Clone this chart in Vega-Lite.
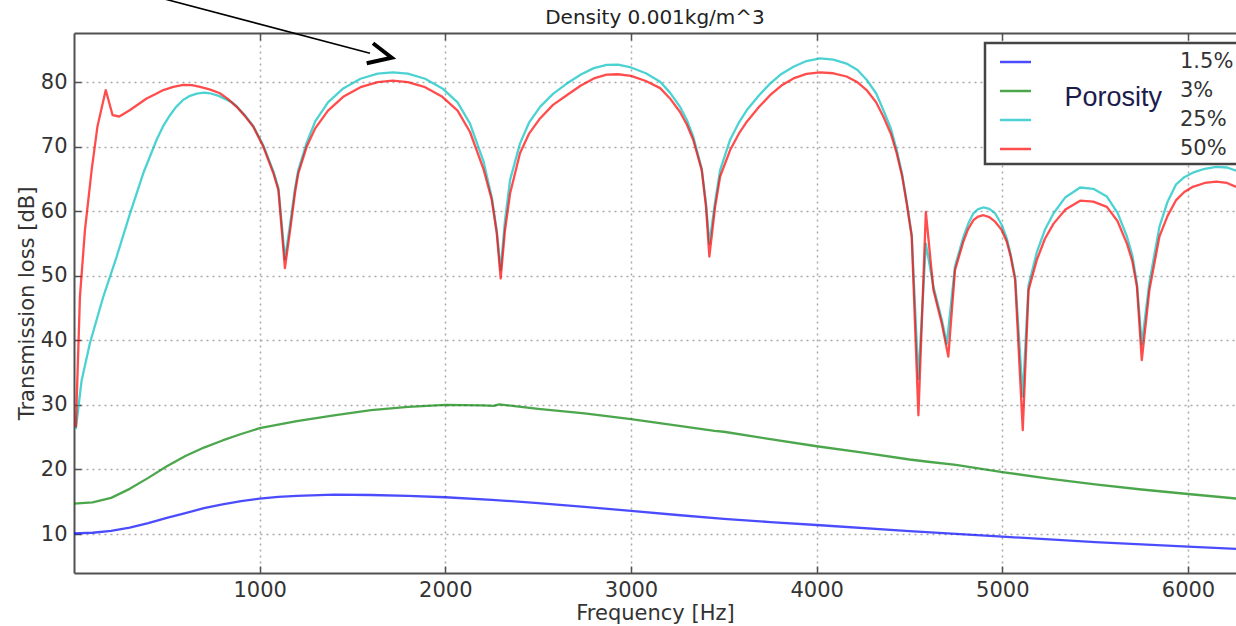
{
  "$schema": "https://vega.github.io/schema/vega-lite/v6.json",
  "width": 1162,
  "height": 540,
  "autosize": {"type": "none"},
  "padding": {"left": 74, "top": 33, "right": 0, "bottom": 53},
  "background": "white",
  "config": {
    "font": "DejaVu Sans",
    "view": {"stroke": null},
    "axis": {
      "domainColor": "#505050", "domainWidth": 2,
      "tickColor": "#505050", "tickWidth": 1.5, "tickSize": -7,
      "labelFontSize": 21, "labelColor": "#333", "labelFont": "DejaVu Sans",
      "titleFontSize": 21, "titleColor": "#333", "titleFont": "DejaVu Sans", "titleFontWeight": "normal",
      "gridColor": "#a8a8a8", "gridDash": [2, 4], "gridWidth": 1.5
    }
  },
  "title": {"text": "Density 0.001kg/m^3", "fontSize": 20, "fontWeight": "normal", "font": "DejaVu Sans", "color": "#222", "offset": -27, "dy": 21, "baseline": "alphabetic", "anchor": "middle"},
  "resolve": {"axis": {"x": "independent", "y": "independent"}},
  "layer": [
    {
      "data": {"values": [
        {"f":0,"tl":10.1,"p":"1.5%"},{"f":100,"tl":10.2,"p":"1.5%"},{"f":200,"tl":10.5,"p":"1.5%"},{"f":300,"tl":11.0,"p":"1.5%"},{"f":400,"tl":11.7,"p":"1.5%"},{"f":500,"tl":12.5,"p":"1.5%"},{"f":600,"tl":13.25,"p":"1.5%"},{"f":700,"tl":14.0,"p":"1.5%"},{"f":800,"tl":14.6,"p":"1.5%"},{"f":900,"tl":15.1,"p":"1.5%"},{"f":1000,"tl":15.5,"p":"1.5%"},{"f":1100,"tl":15.75,"p":"1.5%"},{"f":1200,"tl":15.9,"p":"1.5%"},{"f":1400,"tl":16.1,"p":"1.5%"},{"f":1600,"tl":16.05,"p":"1.5%"},{"f":1800,"tl":15.9,"p":"1.5%"},{"f":2000,"tl":15.7,"p":"1.5%"},{"f":2250,"tl":15.3,"p":"1.5%"},{"f":2500,"tl":14.8,"p":"1.5%"},{"f":2750,"tl":14.2,"p":"1.5%"},{"f":3000,"tl":13.6,"p":"1.5%"},{"f":3250,"tl":12.95,"p":"1.5%"},{"f":3500,"tl":12.35,"p":"1.5%"},{"f":3750,"tl":11.85,"p":"1.5%"},{"f":4000,"tl":11.4,"p":"1.5%"},{"f":4500,"tl":10.45,"p":"1.5%"},{"f":5000,"tl":9.6,"p":"1.5%"},{"f":5500,"tl":8.75,"p":"1.5%"},{"f":6000,"tl":8.05,"p":"1.5%"},{"f":6259,"tl":7.7,"p":"1.5%"},
        {"f":0,"tl":14.7,"p":"3%"},{"f":100,"tl":14.9,"p":"3%"},{"f":200,"tl":15.6,"p":"3%"},{"f":300,"tl":17.0,"p":"3%"},{"f":400,"tl":18.7,"p":"3%"},{"f":500,"tl":20.5,"p":"3%"},{"f":600,"tl":22.1,"p":"3%"},{"f":700,"tl":23.4,"p":"3%"},{"f":800,"tl":24.5,"p":"3%"},{"f":900,"tl":25.5,"p":"3%"},{"f":1000,"tl":26.4,"p":"3%"},{"f":1200,"tl":27.5,"p":"3%"},{"f":1400,"tl":28.4,"p":"3%"},{"f":1600,"tl":29.2,"p":"3%"},{"f":1800,"tl":29.7,"p":"3%"},{"f":2000,"tl":30.0,"p":"3%"},{"f":2200,"tl":29.95,"p":"3%"},{"f":2260,"tl":29.85,"p":"3%"},{"f":2290,"tl":30.1,"p":"3%"},{"f":2350,"tl":29.9,"p":"3%"},{"f":2500,"tl":29.4,"p":"3%"},{"f":2750,"tl":28.7,"p":"3%"},{"f":3000,"tl":27.8,"p":"3%"},{"f":3250,"tl":26.8,"p":"3%"},{"f":3450,"tl":26.0,"p":"3%"},{"f":3500,"tl":25.85,"p":"3%"},{"f":3750,"tl":24.7,"p":"3%"},{"f":4000,"tl":23.6,"p":"3%"},{"f":4250,"tl":22.6,"p":"3%"},{"f":4500,"tl":21.55,"p":"3%"},{"f":4600,"tl":21.2,"p":"3%"},{"f":4750,"tl":20.7,"p":"3%"},{"f":5000,"tl":19.6,"p":"3%"},{"f":5250,"tl":18.6,"p":"3%"},{"f":5500,"tl":17.7,"p":"3%"},{"f":5750,"tl":16.9,"p":"3%"},{"f":6000,"tl":16.2,"p":"3%"},{"f":6259,"tl":15.5,"p":"3%"},
        {"f":10,"tl":26.3,"p":"25%"},{"f":41,"tl":33.8,"p":"25%"},{"f":86,"tl":39.6,"p":"25%"},{"f":158,"tl":46.8,"p":"25%"},{"f":230,"tl":53.0,"p":"25%"},{"f":302,"tl":59.7,"p":"25%"},{"f":373,"tl":65.9,"p":"25%"},{"f":445,"tl":71.1,"p":"25%"},{"f":480,"tl":73.2,"p":"25%"},{"f":517,"tl":74.9,"p":"25%"},{"f":550,"tl":76.2,"p":"25%"},{"f":589,"tl":77.3,"p":"25%"},{"f":625,"tl":77.9,"p":"25%"},{"f":661,"tl":78.25,"p":"25%"},{"f":700,"tl":78.4,"p":"25%"},{"f":733,"tl":78.3,"p":"25%"},{"f":780,"tl":77.9,"p":"25%"},{"f":822,"tl":77.3,"p":"25%"},{"f":850,"tl":76.9,"p":"25%"},{"f":876,"tl":76.3,"p":"25%"},{"f":920,"tl":74.9,"p":"25%"},{"f":966,"tl":73.2,"p":"25%"},{"f":1020,"tl":70.2,"p":"25%"},{"f":1074,"tl":66.2,"p":"25%"},{"f":1101,"tl":63.6,"p":"25%"},{"f":1119,"tl":58.0,"p":"25%"},{"f":1136,"tl":52.6,"p":"25%"},{"f":1164,"tl":58.0,"p":"25%"},{"f":1190,"tl":63.5,"p":"25%"},{"f":1208,"tl":66.4,"p":"25%"},{"f":1253,"tl":70.6,"p":"25%"},{"f":1300,"tl":74.0,"p":"25%"},{"f":1368,"tl":76.9,"p":"25%"},{"f":1450,"tl":79.05,"p":"25%"},{"f":1543,"tl":80.55,"p":"25%"},{"f":1636,"tl":81.34,"p":"25%"},{"f":1717,"tl":81.55,"p":"25%"},{"f":1798,"tl":81.34,"p":"25%"},{"f":1891,"tl":80.55,"p":"25%"},{"f":1984,"tl":79.05,"p":"25%"},{"f":2066,"tl":76.9,"p":"25%"},{"f":2133,"tl":73.6,"p":"25%"},{"f":2205,"tl":67.8,"p":"25%"},{"f":2250,"tl":62.2,"p":"25%"},{"f":2277,"tl":57.0,"p":"25%"},{"f":2298,"tl":50.9,"p":"25%"},{"f":2321,"tl":58.5,"p":"25%"},{"f":2349,"tl":64.9,"p":"25%"},{"f":2402,"tl":70.5,"p":"25%"},{"f":2450,"tl":73.7,"p":"25%"},{"f":2510,"tl":76.2,"p":"25%"},{"f":2580,"tl":78.2,"p":"25%"},{"f":2654,"tl":79.8,"p":"25%"},{"f":2730,"tl":81.2,"p":"25%"},{"f":2800,"tl":82.2,"p":"25%"},{"f":2869,"tl":82.7,"p":"25%"},{"f":2930,"tl":82.75,"p":"25%"},{"f":3000,"tl":82.3,"p":"25%"},{"f":3080,"tl":81.4,"p":"25%"},{"f":3157,"tl":80.1,"p":"25%"},{"f":3210,"tl":78.4,"p":"25%"},{"f":3264,"tl":76.2,"p":"25%"},{"f":3300,"tl":74.2,"p":"25%"},{"f":3335,"tl":71.6,"p":"25%"},{"f":3381,"tl":66.6,"p":"25%"},{"f":3404,"tl":61.2,"p":"25%"},{"f":3422,"tl":55.0,"p":"25%"},{"f":3453,"tl":61.5,"p":"25%"},{"f":3480,"tl":66.4,"p":"25%"},{"f":3534,"tl":71.1,"p":"25%"},{"f":3580,"tl":73.7,"p":"25%"},{"f":3624,"tl":75.7,"p":"25%"},{"f":3690,"tl":78.0,"p":"25%"},{"f":3749,"tl":79.8,"p":"25%"},{"f":3810,"tl":81.3,"p":"25%"},{"f":3875,"tl":82.4,"p":"25%"},{"f":3945,"tl":83.3,"p":"25%"},{"f":4018,"tl":83.7,"p":"25%"},{"f":4090,"tl":83.5,"p":"25%"},{"f":4161,"tl":82.9,"p":"25%"},{"f":4220,"tl":81.9,"p":"25%"},{"f":4269,"tl":80.4,"p":"25%"},{"f":4320,"tl":78.3,"p":"25%"},{"f":4359,"tl":75.7,"p":"25%"},{"f":4400,"tl":72.8,"p":"25%"},{"f":4431,"tl":69.5,"p":"25%"},{"f":4460,"tl":65.8,"p":"25%"},{"f":4485,"tl":61.5,"p":"25%"},{"f":4512,"tl":56.3,"p":"25%"},{"f":4548,"tl":34.0,"p":"25%"},{"f":4588,"tl":55.0,"p":"25%"},{"f":4629,"tl":48.3,"p":"25%"},{"f":4674,"tl":43.2,"p":"25%"},{"f":4701,"tl":39.5,"p":"25%"},{"f":4745,"tl":51.5,"p":"25%"},{"f":4790,"tl":56.0,"p":"25%"},{"f":4815,"tl":58.0,"p":"25%"},{"f":4844,"tl":59.7,"p":"25%"},{"f":4870,"tl":60.35,"p":"25%"},{"f":4898,"tl":60.6,"p":"25%"},{"f":4930,"tl":60.4,"p":"25%"},{"f":4961,"tl":59.7,"p":"25%"},{"f":4995,"tl":58.0,"p":"25%"},{"f":5024,"tl":55.8,"p":"25%"},{"f":5045,"tl":53.3,"p":"25%"},{"f":5069,"tl":49.8,"p":"25%"},{"f":5110,"tl":31.3,"p":"25%"},{"f":5141,"tl":48.5,"p":"25%"},{"f":5186,"tl":53.7,"p":"25%"},{"f":5230,"tl":57.2,"p":"25%"},{"f":5276,"tl":59.7,"p":"25%"},{"f":5340,"tl":62.2,"p":"25%"},{"f":5419,"tl":63.7,"p":"25%"},{"f":5490,"tl":63.5,"p":"25%"},{"f":5563,"tl":62.3,"p":"25%"},{"f":5620,"tl":59.8,"p":"25%"},{"f":5671,"tl":56.1,"p":"25%"},{"f":5700,"tl":53.2,"p":"25%"},{"f":5725,"tl":48.8,"p":"25%"},{"f":5751,"tl":39.4,"p":"25%"},{"f":5792,"tl":49.0,"p":"25%"},{"f":5846,"tl":57.6,"p":"25%"},{"f":5890,"tl":61.5,"p":"25%"},{"f":5936,"tl":64.2,"p":"25%"},{"f":5980,"tl":65.3,"p":"25%"},{"f":6026,"tl":66.0,"p":"25%"},{"f":6090,"tl":66.6,"p":"25%"},{"f":6152,"tl":66.9,"p":"25%"},{"f":6210,"tl":66.8,"p":"25%"},{"f":6259,"tl":66.3,"p":"25%"},
        {"f":10,"tl":26.5,"p":"50%"},{"f":32,"tl":46.8,"p":"50%"},{"f":59,"tl":57.1,"p":"50%"},{"f":95,"tl":66.4,"p":"50%"},{"f":126,"tl":73.1,"p":"50%"},{"f":171,"tl":78.8,"p":"50%"},{"f":208,"tl":74.9,"p":"50%"},{"f":244,"tl":74.7,"p":"50%"},{"f":302,"tl":75.7,"p":"50%"},{"f":391,"tl":77.5,"p":"50%"},{"f":440,"tl":78.2,"p":"50%"},{"f":481,"tl":78.8,"p":"50%"},{"f":535,"tl":79.3,"p":"50%"},{"f":589,"tl":79.6,"p":"50%"},{"f":635,"tl":79.55,"p":"50%"},{"f":679,"tl":79.3,"p":"50%"},{"f":730,"tl":78.9,"p":"50%"},{"f":786,"tl":78.3,"p":"50%"},{"f":830,"tl":77.4,"p":"50%"},{"f":876,"tl":76.2,"p":"50%"},{"f":920,"tl":74.8,"p":"50%"},{"f":966,"tl":73.1,"p":"50%"},{"f":1020,"tl":70.0,"p":"50%"},{"f":1074,"tl":65.9,"p":"50%"},{"f":1101,"tl":63.3,"p":"50%"},{"f":1119,"tl":57.1,"p":"50%"},{"f":1136,"tl":51.2,"p":"50%"},{"f":1164,"tl":57.1,"p":"50%"},{"f":1190,"tl":62.8,"p":"50%"},{"f":1208,"tl":65.9,"p":"50%"},{"f":1253,"tl":70.0,"p":"50%"},{"f":1300,"tl":72.9,"p":"50%"},{"f":1368,"tl":75.6,"p":"50%"},{"f":1450,"tl":77.75,"p":"50%"},{"f":1543,"tl":79.25,"p":"50%"},{"f":1636,"tl":80.04,"p":"50%"},{"f":1717,"tl":80.25,"p":"50%"},{"f":1798,"tl":80.04,"p":"50%"},{"f":1891,"tl":79.25,"p":"50%"},{"f":1984,"tl":77.75,"p":"50%"},{"f":2066,"tl":75.6,"p":"50%"},{"f":2133,"tl":72.3,"p":"50%"},{"f":2205,"tl":66.6,"p":"50%"},{"f":2250,"tl":61.8,"p":"50%"},{"f":2277,"tl":56.6,"p":"50%"},{"f":2298,"tl":49.6,"p":"50%"},{"f":2321,"tl":57.0,"p":"50%"},{"f":2349,"tl":62.8,"p":"50%"},{"f":2402,"tl":69.0,"p":"50%"},{"f":2450,"tl":72.0,"p":"50%"},{"f":2510,"tl":74.4,"p":"50%"},{"f":2580,"tl":76.5,"p":"50%"},{"f":2654,"tl":78.0,"p":"50%"},{"f":2730,"tl":79.5,"p":"50%"},{"f":2800,"tl":80.6,"p":"50%"},{"f":2869,"tl":81.2,"p":"50%"},{"f":2930,"tl":81.25,"p":"50%"},{"f":3000,"tl":81.0,"p":"50%"},{"f":3080,"tl":80.2,"p":"50%"},{"f":3157,"tl":79.1,"p":"50%"},{"f":3210,"tl":77.5,"p":"50%"},{"f":3264,"tl":75.4,"p":"50%"},{"f":3300,"tl":73.5,"p":"50%"},{"f":3335,"tl":71.1,"p":"50%"},{"f":3381,"tl":66.4,"p":"50%"},{"f":3404,"tl":60.7,"p":"50%"},{"f":3422,"tl":53.0,"p":"50%"},{"f":3453,"tl":60.7,"p":"50%"},{"f":3480,"tl":65.4,"p":"50%"},{"f":3534,"tl":69.5,"p":"50%"},{"f":3580,"tl":72.0,"p":"50%"},{"f":3624,"tl":73.9,"p":"50%"},{"f":3690,"tl":76.2,"p":"50%"},{"f":3749,"tl":78.0,"p":"50%"},{"f":3810,"tl":79.5,"p":"50%"},{"f":3875,"tl":80.6,"p":"50%"},{"f":3945,"tl":81.3,"p":"50%"},{"f":4018,"tl":81.55,"p":"50%"},{"f":4090,"tl":81.4,"p":"50%"},{"f":4161,"tl":80.9,"p":"50%"},{"f":4220,"tl":80.0,"p":"50%"},{"f":4269,"tl":78.8,"p":"50%"},{"f":4320,"tl":76.9,"p":"50%"},{"f":4359,"tl":74.7,"p":"50%"},{"f":4400,"tl":72.0,"p":"50%"},{"f":4431,"tl":69.0,"p":"50%"},{"f":4460,"tl":65.5,"p":"50%"},{"f":4485,"tl":61.2,"p":"50%"},{"f":4512,"tl":56.1,"p":"50%"},{"f":4548,"tl":28.4,"p":"50%"},{"f":4588,"tl":59.9,"p":"50%"},{"f":4629,"tl":47.8,"p":"50%"},{"f":4674,"tl":42.6,"p":"50%"},{"f":4709,"tl":37.5,"p":"50%"},{"f":4745,"tl":50.9,"p":"50%"},{"f":4790,"tl":55.3,"p":"50%"},{"f":4815,"tl":57.2,"p":"50%"},{"f":4844,"tl":58.65,"p":"50%"},{"f":4870,"tl":59.2,"p":"50%"},{"f":4898,"tl":59.4,"p":"50%"},{"f":4930,"tl":59.1,"p":"50%"},{"f":4961,"tl":58.4,"p":"50%"},{"f":4995,"tl":57.2,"p":"50%"},{"f":5024,"tl":55.3,"p":"50%"},{"f":5045,"tl":53.0,"p":"50%"},{"f":5069,"tl":49.35,"p":"50%"},{"f":5110,"tl":26.1,"p":"50%"},{"f":5141,"tl":47.8,"p":"50%"},{"f":5186,"tl":52.5,"p":"50%"},{"f":5230,"tl":55.8,"p":"50%"},{"f":5276,"tl":58.1,"p":"50%"},{"f":5340,"tl":60.3,"p":"50%"},{"f":5419,"tl":61.65,"p":"50%"},{"f":5490,"tl":61.5,"p":"50%"},{"f":5563,"tl":60.7,"p":"50%"},{"f":5620,"tl":58.5,"p":"50%"},{"f":5671,"tl":55.0,"p":"50%"},{"f":5700,"tl":52.3,"p":"50%"},{"f":5725,"tl":48.3,"p":"50%"},{"f":5751,"tl":36.95,"p":"50%"},{"f":5792,"tl":47.8,"p":"50%"},{"f":5846,"tl":56.1,"p":"50%"},{"f":5890,"tl":59.3,"p":"50%"},{"f":5936,"tl":61.75,"p":"50%"},{"f":5980,"tl":63.0,"p":"50%"},{"f":6026,"tl":63.8,"p":"50%"},{"f":6090,"tl":64.4,"p":"50%"},{"f":6152,"tl":64.6,"p":"50%"},{"f":6210,"tl":64.4,"p":"50%"},{"f":6259,"tl":63.8,"p":"50%"}
      ]},
      "mark": {"type": "line", "strokeWidth": 2.3, "strokeOpacity": 0.7, "strokeJoin": "round", "clip": true},
      "encoding": {
        "x": {"field": "f", "type": "quantitative",
          "scale": {"domain": [0, 6258.5], "nice": false, "zero": false},
          "axis": {"orient": "bottom", "values": [1000, 2000, 3000, 4000, 5000, 6000], "format": "d", "grid": true, "title": "Frequency [Hz]", "labelPadding": 13, "titlePadding": 2}},
        "y": {"field": "tl", "type": "quantitative",
          "scale": {"domain": [3.96, 87.64], "nice": false, "zero": false},
          "axis": {"orient": "left", "values": [10, 20, 30, 40, 50, 60, 70, 80], "format": "d", "grid": true, "title": "Transmission loss [dB]", "labelPadding": 14, "titlePadding": 3}},
        "color": {"field": "p", "type": "nominal",
          "scale": {"domain": ["1.5%", "3%", "25%", "50%"], "range": ["#0000ff", "#008000", "#00bfbf", "#ff0000"]},
          "legend": {"orient": "none", "legendX": 924.5, "legendY": 14.5, "title": null, "symbolType": "stroke", "symbolSize": 961, "symbolStrokeWidth": 2.5, "symbolOpacity": 0.7, "clipHeight": 29, "rowPadding": 0, "padding": 0, "labelOffset": 147.5, "labelFontSize": 21, "labelColor": "#333", "labelFont": "DejaVu Sans", "fillColor": null, "strokeColor": null}},
        "order": {"field": "f", "type": "quantitative"}
      }
    },
    {
      "data": {"values": [{}]},
      "mark": {"type": "rect", "fill": "white", "stroke": "#444", "strokeWidth": 2.5},
      "encoding": {
        "x": {"datum": 4906.6, "type": "quantitative", "axis": {"orient": "top", "labels": false, "title": null, "grid": false, "values": [1000, 2000, 3000, 4000, 5000, 6000]}},
        "x2": {"datum": 6500},
        "y": {"datum": 86.09, "type": "quantitative", "axis": {"orient": "right", "labels": false, "ticks": false, "domain": false, "grid": false, "title": null}},
        "y2": {"datum": 67.34}
      }
    },
    {
      "data": {"values": [{}]},
      "mark": {"type": "text", "text": "Porosity", "font": "Liberation Sans", "fontSize": 27, "fill": "#1c1c4c", "align": "center", "baseline": "alphabetic"},
      "encoding": {
        "x": {"datum": 5597, "type": "quantitative", "axis": null},
        "y": {"datum": 76.33, "type": "quantitative", "axis": null}
      }
    },
    {
      "data": {"values": [{}]},
      "mark": {"type": "rule", "stroke": "black", "strokeWidth": 1.6},
      "encoding": {
        "x": {"datum": 447, "type": "quantitative", "axis": null},
        "y": {"datum": 93.22, "type": "quantitative", "axis": null},
        "x2": {"datum": 1594.2},
        "y2": {"datum": 84.5}
      }
    },
    {
      "data": {"values": [{"k": 0, "hx": 1610.4, "hy": 86.05}, {"k": 1, "hx": 1711.1, "hy": 83.81}, {"k": 2, "hx": 1576.5, "hy": 82.95}]},
      "mark": {"type": "line", "stroke": "black", "strokeWidth": 4, "strokeJoin": "miter", "strokeCap": "butt"},
      "encoding": {
        "x": {"field": "hx", "type": "quantitative", "axis": null},
        "y": {"field": "hy", "type": "quantitative", "axis": null},
        "order": {"field": "k", "type": "quantitative"}
      }
    }
  ]
}
